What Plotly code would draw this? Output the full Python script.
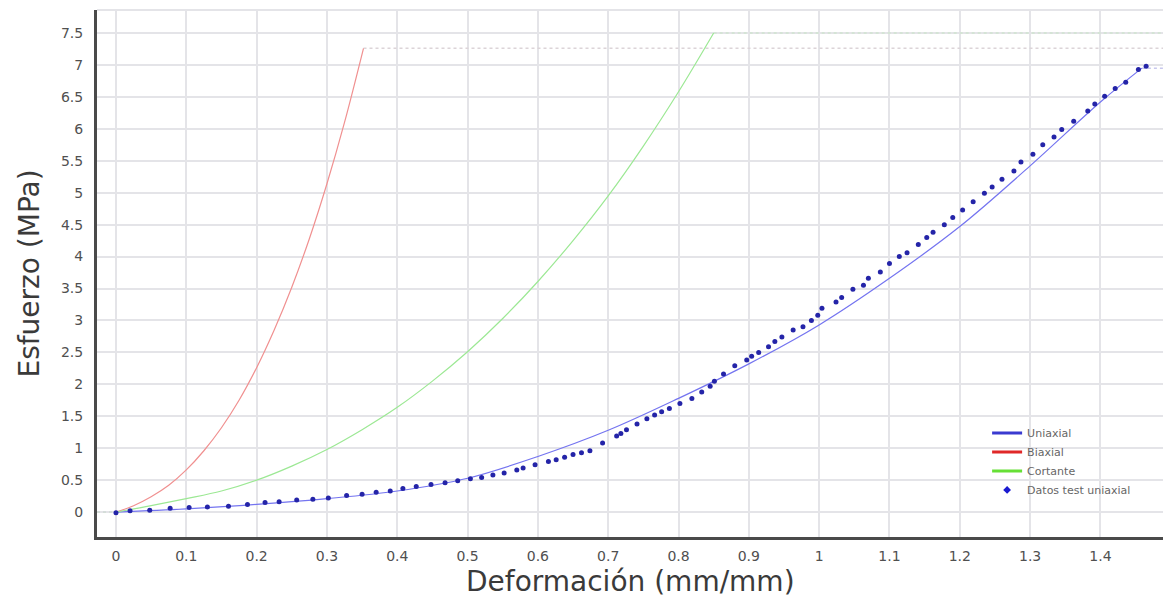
import plotly.graph_objects as go

# Strain axis limits (mm/mm) and stress axis limits (MPa)
X_MIN, X_MAX = -0.027, 1.489
Y_MIN, Y_MAX = -0.39, 7.86

# Hyperelastic model fits
uni_x = [0, 0.1, 0.2, 0.3, 0.4, 0.5, 0.6, 0.7, 0.8, 0.9, 1.0, 1.1, 1.2, 1.3, 1.4, 1.459]
uni_y = [0, 0.05, 0.12, 0.21, 0.33, 0.53, 0.87, 1.28, 1.78, 2.32, 2.93, 3.66, 4.47, 5.42, 6.42, 6.95]

bi_x = [0, 0.025, 0.05, 0.075, 0.1, 0.125, 0.15, 0.175, 0.2, 0.225, 0.25, 0.275, 0.3,
        0.325, 0.352]
bi_y = [0, 0.10, 0.24, 0.42, 0.66, 0.96, 1.32, 1.75, 2.26, 2.85, 3.52, 4.28, 5.14,
        6.10, 7.26]

sh_x = [0, 0.05, 0.1, 0.15, 0.2, 0.25, 0.3, 0.35, 0.4, 0.45, 0.5, 0.55, 0.6, 0.65,
        0.7, 0.75, 0.8, 0.85]
sh_y = [0, 0.10, 0.21, 0.33, 0.50, 0.72, 0.98, 1.29, 1.64, 2.05, 2.51, 3.03, 3.61, 4.25,
        4.95, 5.73, 6.58, 7.50]

# Uniaxial test measurements
test_x = [0, 0.020, 0.048, 0.077, 0.104, 0.130, 0.160, 0.187, 0.212, 0.232, 0.257, 0.280,
          0.302, 0.328, 0.350, 0.370, 0.390, 0.408, 0.427, 0.448, 0.468, 0.486, 0.504,
          0.520, 0.536, 0.552, 0.570, 0.579, 0.596, 0.615, 0.626, 0.638, 0.650, 0.662,
          0.674, 0.692, 0.712, 0.718, 0.726, 0.741, 0.755, 0.766, 0.776, 0.787, 0.802,
          0.819, 0.833, 0.845, 0.851, 0.864, 0.880, 0.897, 0.904, 0.914, 0.928, 0.937,
          0.947, 0.963, 0.977, 0.989, 0.998, 1.004, 1.024, 1.032, 1.048, 1.063, 1.070,
          1.087, 1.100, 1.114, 1.125, 1.141, 1.153, 1.162, 1.178, 1.190, 1.204, 1.219,
          1.235, 1.246, 1.260, 1.277, 1.287, 1.304, 1.318, 1.334, 1.345, 1.362, 1.382,
          1.392, 1.406, 1.421, 1.436, 1.454, 1.465]
test_y = [-0.01, 0.02, 0.03, 0.06, 0.07, 0.08, 0.09, 0.12, 0.15, 0.16, 0.19, 0.20,
          0.22, 0.26, 0.28, 0.31, 0.33, 0.37, 0.40, 0.43, 0.46, 0.49, 0.52,
          0.54, 0.58, 0.61, 0.66, 0.69, 0.74, 0.79, 0.82, 0.86, 0.90, 0.93,
          0.96, 1.08, 1.19, 1.23, 1.29, 1.38, 1.46, 1.52, 1.57, 1.62, 1.70,
          1.78, 1.88, 1.97, 2.05, 2.16, 2.29, 2.38, 2.44, 2.50, 2.59, 2.67,
          2.74, 2.85, 2.90, 3.00, 3.08, 3.19, 3.29, 3.36, 3.49, 3.55, 3.66,
          3.76, 3.89, 4.00, 4.06, 4.19, 4.30, 4.38, 4.50, 4.61, 4.73, 4.86,
          4.99, 5.09, 5.21, 5.34, 5.48, 5.60, 5.75, 5.87, 5.99, 6.12, 6.28,
          6.39, 6.51, 6.63, 6.73, 6.93, 6.98]

names = ["Uniaxial", "Biaxial", "Cortante", "Datos test uniaxial"]
x_title = "Deformación (mm/mm)"
y_title = "Esfuerzo (MPa)"
legend_colors = ["#3a3ad0", "#e02828", "#66e036"]
curve_colors = ["#7474f0", "#f09090", "#9ce894"]
ext_colors = ["#c8c8ee", "#dcd4d8", "#d0e4d0"]

fig = go.Figure()

curves = [(uni_x, uni_y), (bi_x, bi_y), (sh_x, sh_y)]
for (cx, cy), col, ecol in zip(curves, curve_colors, ext_colors):
    # constant extrapolation beyond the fitted range
    fig.add_trace(go.Scatter(x=[X_MIN, cx[0]], y=[cy[0], cy[0]], mode="lines",
                             line=dict(color=ecol, width=1, dash="dot"),
                             showlegend=False, hoverinfo="skip"))
    fig.add_trace(go.Scatter(x=[cx[-1], X_MAX], y=[cy[-1], cy[-1]], mode="lines",
                             line=dict(color=ecol, width=1.5, dash="dot"),
                             showlegend=False, hoverinfo="skip"))
    fig.add_trace(go.Scatter(x=cx, y=cy, mode="lines",
                             line=dict(color=col, width=1.2, shape="spline", smoothing=1),
                             showlegend=False))

fig.add_trace(go.Scatter(x=test_x, y=test_y, mode="markers",
                         marker=dict(color="#2424a8", size=5, symbol="circle",
                                     line=dict(width=0)),
                         showlegend=False))

# legend entries
for name, col in zip(names[:3], legend_colors):
    fig.add_trace(go.Scatter(x=[None], y=[None], mode="lines", name=name,
                             line=dict(color=col, width=3)))
fig.add_trace(go.Scatter(x=[None], y=[None], mode="markers", name=names[3],
                         marker=dict(color="#1a1ad0", size=6, symbol="diamond")))

axis_font = dict(family="Verdana, DejaVu Sans, sans-serif", size=14, color="#505050")
title_font = dict(family="DejaVu Sans, sans-serif", size=28, color="#3a3a3a")

fig.update_layout(
    width=1163, height=600,
    margin=dict(l=97, r=0, t=10, b=63),
    paper_bgcolor="white", plot_bgcolor="white",
    showlegend=True,
    legend=dict(x=0.835, y=0.225, xanchor="left", yanchor="top",
                bgcolor="rgba(255,255,255,0)",
                font=dict(family="Verdana, DejaVu Sans, sans-serif", size=11, color="#666666"),
                tracegroupgap=0, itemwidth=30),
    xaxis=dict(range=[X_MIN, X_MAX], tick0=0, dtick=0.1, showgrid=True,
               gridcolor="#e4e4e8", gridwidth=2, zeroline=False,
               showline=True, linecolor="#4a4a4a", linewidth=3,
               ticks="", tickfont=axis_font, ticklabelstandoff=4, automargin=False),
    yaxis=dict(range=[Y_MIN, Y_MAX], tick0=0, dtick=0.5, showgrid=True,
               gridcolor="#e4e4e8", gridwidth=2, zeroline=False,
               showline=True, linecolor="#4a4a4a", linewidth=3,
               ticks="", tickfont=axis_font, ticklabelstandoff=8, automargin=False,
               title=dict(text=y_title, font=title_font, standoff=14)),
    annotations=[dict(text=x_title, xref="paper", yref="paper", x=0.5, y=-0.118,
                      xanchor="center", yanchor="bottom", showarrow=False,
                      borderpad=0, font=title_font)],
    shapes=[dict(type="line", xref="paper", yref="paper", x0=0, x1=1, y0=1, y1=1,
                 line=dict(color="#e4e4e8", width=2))],
)

fig.write_html("out.html")
